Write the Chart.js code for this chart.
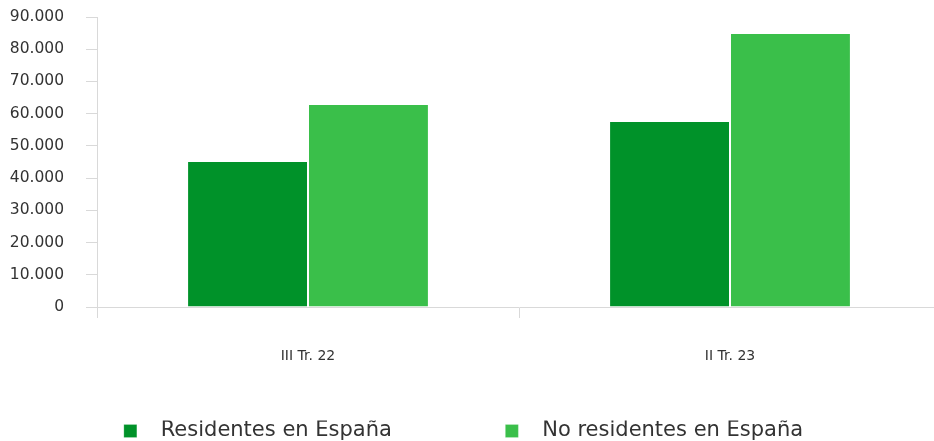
<!DOCTYPE html>
<html>
<head>
<meta charset="utf-8">
<script src="https://cdn.jsdelivr.net/npm/chart.js@4"></script>
<style>
html,body{margin:0;padding:0;background:#fff;overflow:hidden}
/* the plot runs a little past the right edge, as in the original */
#wrap{width:945px;height:441px;position:relative}
</style>
</head>
<body>
<div id="wrap"><canvas id="chart"></canvas></div>
<script>
// =============================
// DATA
// =============================
const categories = ["III Tr. 22", "II Tr. 23"]
const residentes = [45300, 57700]
const noResidentes = [63000, 85000]
const seriesNames = ["Residentes en España", "No residentes en España"]

const FONT = "'DejaVu Sans', sans-serif"
const AXIS = "#d9d9d9"

function fmt(v){
return v.toLocaleString("de-DE")
}

// spaces give the legend its wide gaps
const gapBefore = "  "
const gapAfter = " ".repeat(17)

const ctx = document.getElementById("chart").getContext("2d")

new Chart(ctx,{

type:"bar",

data:{
labels:categories,
datasets:[{
label:gapBefore + seriesNames[0] + gapAfter,
data:residentes,
backgroundColor:"#009229",
borderColor:"rgba(255,255,255,0.2)",
borderWidth:1,
categoryPercentage:0.573,
barPercentage:1
},{
label:gapBefore + seriesNames[1] + "   ",
data:noResidentes,
backgroundColor:"#3abf4a",
borderColor:"rgba(255,255,255,0.2)",
borderWidth:1,
categoryPercentage:0.573,
barPercentage:1
}]
},

options:{
responsive:true,
maintainAspectRatio:false,
animation:false,

layout:{
padding:{top:17,right:4,bottom:-10.5,left:6}
},

plugins:{
tooltip:{enabled:false},
legend:{
position:"bottom",
labels:{
color:"#333",
boxWidth:13,
boxHeight:13,
padding:0,
font:{family:FONT,size:21}
}
}
},

scales:{
x:{
grid:{
drawOnChartArea:false,
tickLength:11,
color:AXIS
},
border:{color:AXIS},
ticks:{
color:"#333",
padding:30,
font:{family:FONT,size:14}
},
afterFit:function(s){ s.height = 113.5 }
},
y:{
min:0,
max:90000,
grid:{
drawOnChartArea:false,
tickLength:11,
color:AXIS
},
border:{color:AXIS},
ticks:{
stepSize:10000,
color:"#333",
padding:22,
font:{family:FONT,size:15.5},
callback:function(v){ return fmt(v) }
},
afterFit:function(s){
s.width = 91
s.paddingTop = 0
s.paddingBottom = 0
}
}
}

}

})
</script>
</body>
</html>
